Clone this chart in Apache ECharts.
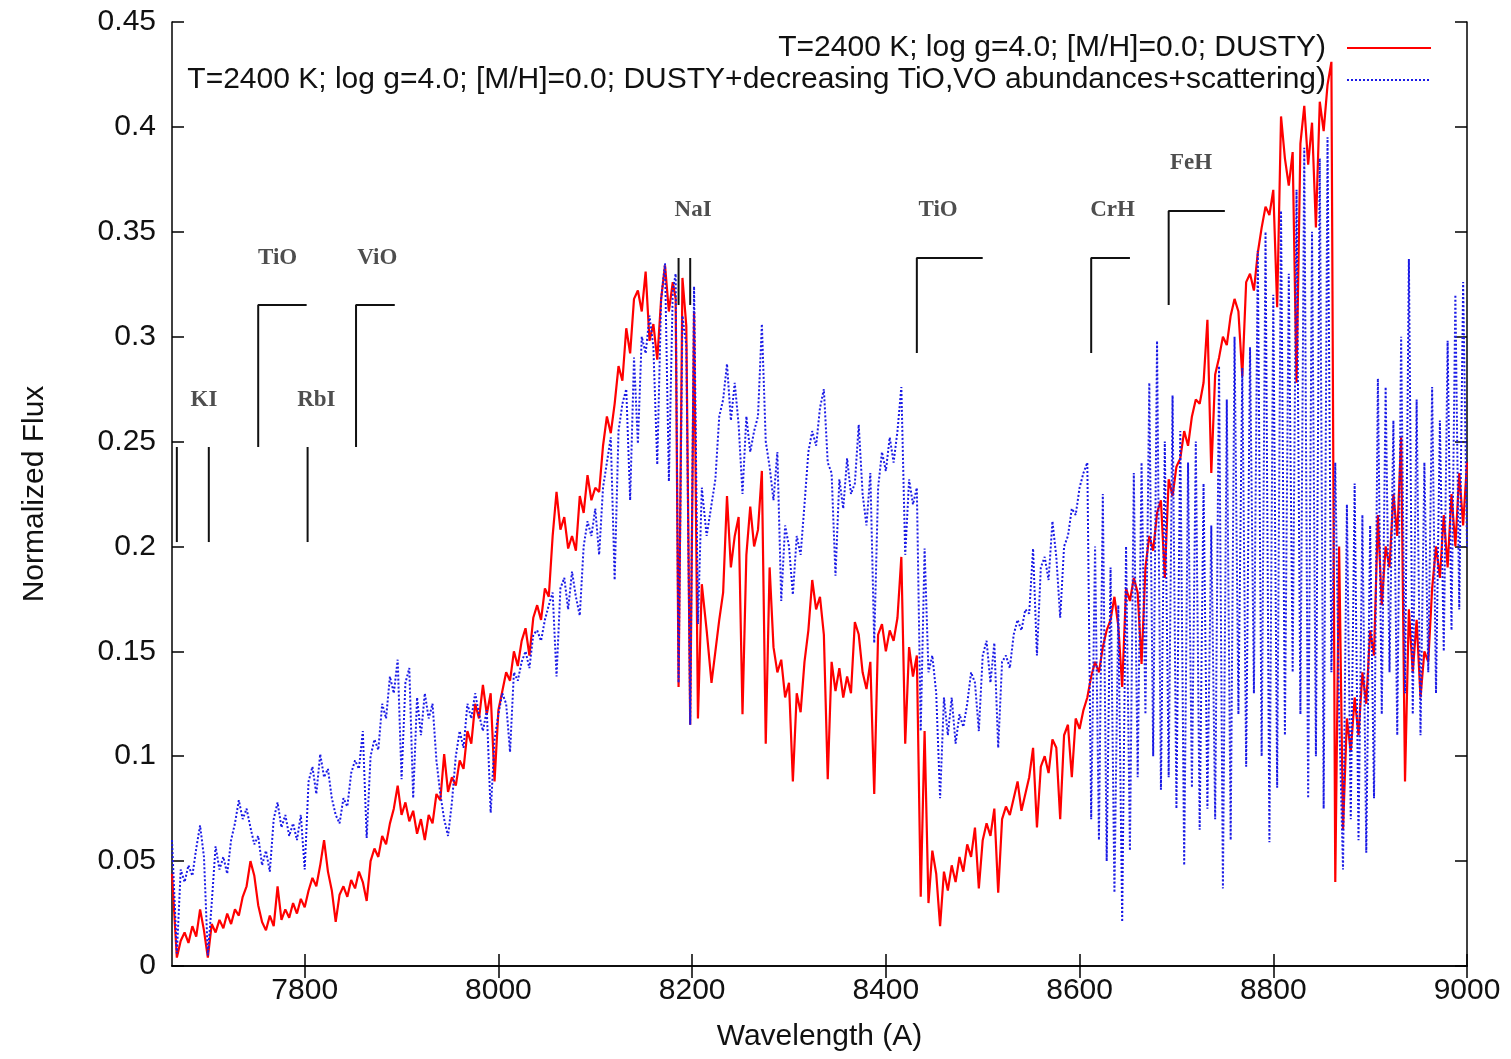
<!DOCTYPE html>
<html>
<head>
<meta charset="utf-8">
<script src="https://cdn.jsdelivr.net/npm/echarts@6.0.0/dist/echarts.min.js"></script>
<style>html,body{margin:0;padding:0;background:#fff}#chart{width:1511px;height:1059px}</style>
</head>
<body>
<div id="chart"></div>
<script>
// Wavelength grid (Angstrom)
const wavelength = [
7663,7668,7672,7676,7680,7684,7688,7692,7696,7700,
7704,7708,7712,7716,7720,7724,7728,7732,7736,7740,
7744,7748,7752,7756,7760,7764,7768,7772,7776,7780,
7784,7788,7792,7796,7800,7804,7808,7812,7816,7820,
7824,7828,7832,7836,7840,7844,7848,7852,7856,7860,
7864,7868,7872,7876,7880,7884,7888,7892,7896,7900,
7904,7908,7912,7916,7920,7924,7928,7932,7936,7940,
7944,7948,7952,7956,7960,7964,7968,7972,7976,7980,
7984,7988,7992,7996,8000,8004,8008,8012,8016,8020,
8024,8028,8032,8036,8040,8044,8048,8052,8056,8060,
8064,8068,8072,8076,8080,8084,8088,8092,8096,8100,
8104,8108,8112,8116,8120,8124,8128,8132,8136,8140,
8144,8148,8152,8156,8160,8164,8168,8172,8176,8180,
8183,8186,8190,8194,8198,8202,8206,8210,8215,8220,
8224,8228,8232,8236,8240,8244,8248,8252,8256,8260,
8264,8268,8272,8276,8280,8284,8288,8292,8296,8300,
8304,8308,8312,8316,8320,8324,8328,8332,8336,8340,
8344,8348,8352,8356,8360,8364,8368,8372,8376,8380,
8384,8388,8392,8396,8400,8404,8408,8412,8416,8420,
8424,8428,8432,8436,8440,8444,8448,8452,8456,8460,
8464,8468,8472,8476,8480,8484,8488,8492,8496,8500,
8504,8508,8512,8516,8520,8524,8528,8532,8536,8540,
8544,8548,8552,8556,8560,8564,8568,8572,8576,8580,
8584,8588,8592,8596,8600,8604,8608,8612,8616,8620,
8624,8628,8632,8636,8640,8644,8648,8652,8656,8660,
8664,8668,8672,8676,8680,8684,8688,8692,8696,8700,
8704,8708,8712,8716,8720,8724,8728,8732,8736,8740,
8744,8748,8752,8756,8760,8764,8768,8772,8776,8780,
8784,8788,8792,8796,8800,8804,8808,8812,8816,8820,
8824,8828,8832,8836,8840,8844,8848,8852,8856,8860,
8864,8868,8872,8876,8880,8884,8888,8892,8896,8900,
8904,8908,8912,8916,8920,8924,8928,8932,8936,8940,
8944,8948,8952,8956,8960,8964,8968,8972,8976,8980,
8984,8988,8992,8996,9000
];

// DUSTY model (red, solid)
const fluxDusty = [
0.044,0.004,0.012,0.016,0.011,0.019,0.014,0.027,0.017,0.004,
0.020,0.016,0.022,0.018,0.025,0.020,0.027,0.024,0.033,0.038,
0.050,0.043,0.029,0.021,0.017,0.024,0.019,0.038,0.022,0.027,
0.023,0.030,0.025,0.032,0.028,0.036,0.042,0.038,0.048,0.060,
0.045,0.036,0.021,0.034,0.038,0.033,0.041,0.037,0.045,0.040,
0.031,0.050,0.056,0.052,0.062,0.058,0.068,0.075,0.086,0.072,
0.078,0.069,0.074,0.063,0.070,0.060,0.072,0.068,0.082,0.079,
0.101,0.083,0.090,0.086,0.098,0.094,0.112,0.106,0.125,0.118,
0.134,0.120,0.130,0.088,0.122,0.131,0.140,0.136,0.150,0.143,
0.155,0.161,0.148,0.166,0.172,0.165,0.180,0.176,0.205,0.226,
0.208,0.214,0.199,0.205,0.198,0.224,0.216,0.234,0.222,0.228,
0.226,0.248,0.262,0.254,0.268,0.286,0.279,0.304,0.292,0.318,
0.322,0.312,0.331,0.298,0.306,0.289,0.318,0.334,0.312,0.326,
0.318,0.133,0.328,0.305,0.115,0.312,0.118,0.182,0.160,0.135,
0.150,0.165,0.178,0.224,0.190,0.205,0.214,0.120,0.196,0.219,
0.200,0.208,0.236,0.106,0.190,0.152,0.140,0.146,0.128,0.135,
0.088,0.130,0.121,0.145,0.160,0.184,0.170,0.176,0.158,0.089,
0.145,0.131,0.142,0.128,0.138,0.130,0.164,0.158,0.140,0.132,
0.145,0.082,0.158,0.163,0.150,0.160,0.155,0.166,0.195,0.106,
0.152,0.138,0.148,0.033,0.112,0.030,0.055,0.044,0.019,0.045,
0.036,0.048,0.040,0.052,0.045,0.058,0.052,0.066,0.037,0.060,
0.068,0.062,0.075,0.035,0.070,0.076,0.072,0.080,0.088,0.074,
0.082,0.090,0.104,0.066,0.095,0.100,0.092,0.108,0.104,0.070,
0.110,0.115,0.090,0.118,0.113,0.122,0.128,0.138,0.145,0.140,
0.152,0.160,0.165,0.176,0.162,0.133,0.180,0.174,0.185,0.178,
0.144,0.190,0.205,0.198,0.216,0.222,0.185,0.232,0.224,0.238,
0.242,0.255,0.248,0.262,0.270,0.268,0.278,0.308,0.235,0.282,
0.290,0.300,0.296,0.310,0.318,0.312,0.281,0.326,0.330,0.322,
0.340,0.352,0.362,0.358,0.370,0.314,0.405,0.385,0.372,0.388,
0.278,0.392,0.410,0.382,0.402,0.352,0.412,0.398,0.420,0.431,
0.040,0.200,0.065,0.118,0.102,0.128,0.110,0.140,0.125,0.160,
0.148,0.215,0.172,0.200,0.190,0.225,0.205,0.252,0.088,0.170,
0.140,0.165,0.128,0.150,0.145,0.180,0.200,0.185,0.215,0.190,
0.225,0.200,0.235,0.210,0.240
];

// DUSTY + decreasing TiO,VO abundances + scattering (blue, dotted)
const fluxScattering = [
0.060,0.006,0.046,0.040,0.048,0.043,0.056,0.067,0.052,0.005,
0.030,0.057,0.046,0.052,0.044,0.060,0.068,0.079,0.070,0.075,
0.066,0.058,0.062,0.048,0.055,0.045,0.070,0.078,0.066,0.072,
0.062,0.068,0.060,0.072,0.046,0.088,0.095,0.082,0.101,0.090,
0.094,0.080,0.072,0.068,0.080,0.076,0.092,0.098,0.094,0.112,
0.061,0.100,0.108,0.103,0.125,0.118,0.138,0.130,0.146,0.089,
0.135,0.142,0.080,0.128,0.110,0.130,0.118,0.125,0.098,0.082,
0.070,0.062,0.078,0.100,0.112,0.104,0.125,0.118,0.130,0.120,
0.112,0.122,0.073,0.108,0.120,0.130,0.125,0.102,0.140,0.136,
0.145,0.150,0.142,0.158,0.160,0.155,0.165,0.172,0.178,0.138,
0.180,0.185,0.170,0.188,0.176,0.167,0.200,0.212,0.205,0.218,
0.196,0.228,0.240,0.252,0.184,0.255,0.268,0.275,0.222,0.290,
0.249,0.300,0.292,0.310,0.295,0.239,0.318,0.335,0.231,0.322,
0.330,0.135,0.310,0.296,0.115,0.324,0.163,0.228,0.205,0.220,
0.232,0.262,0.270,0.287,0.260,0.278,0.258,0.225,0.262,0.245,
0.255,0.262,0.306,0.250,0.238,0.222,0.245,0.174,0.210,0.200,
0.177,0.205,0.196,0.220,0.245,0.255,0.248,0.266,0.275,0.240,
0.235,0.186,0.232,0.218,0.242,0.225,0.230,0.258,0.225,0.210,
0.235,0.154,0.228,0.245,0.236,0.252,0.240,0.255,0.276,0.196,
0.232,0.220,0.228,0.112,0.199,0.140,0.148,0.130,0.080,0.128,
0.110,0.128,0.106,0.120,0.114,0.125,0.140,0.135,0.112,0.148,
0.155,0.135,0.154,0.104,0.145,0.148,0.142,0.158,0.165,0.160,
0.170,0.168,0.199,0.148,0.190,0.195,0.184,0.212,0.195,0.166,
0.200,0.205,0.218,0.215,0.228,0.235,0.240,0.070,0.200,0.060,
0.225,0.050,0.190,0.035,0.172,0.021,0.200,0.055,0.235,0.090,
0.240,0.120,0.278,0.100,0.298,0.084,0.250,0.090,0.272,0.075,
0.255,0.048,0.240,0.085,0.250,0.065,0.230,0.075,0.210,0.070,
0.286,0.037,0.270,0.060,0.300,0.120,0.285,0.095,0.295,0.130,
0.341,0.100,0.350,0.059,0.320,0.085,0.360,0.110,0.330,0.140,
0.370,0.120,0.390,0.080,0.350,0.100,0.385,0.075,0.395,0.140,
0.240,0.120,0.046,0.220,0.070,0.230,0.060,0.215,0.054,0.210,
0.080,0.280,0.120,0.276,0.140,0.260,0.110,0.300,0.130,0.337,
0.120,0.270,0.110,0.240,0.140,0.276,0.130,0.260,0.150,0.298,
0.160,0.320,0.170,0.326,0.200
];

const seriesNames = [
  'T=2400 K; log g=4.0; [M/H]=0.0; DUSTY)',
  'T=2400 K; log g=4.0; [M/H]=0.0; DUSTY+decreasing TiO,VO abundances+scattering)'
];

const xTicks = [7800, 8000, 8200, 8400, 8600, 8800, 9000];

// Line identification markers (wavelength, flux)
const featureBrackets = [
  [[7668, 0.2021], [7668, 0.2474]],
  [[7701, 0.2021], [7701, 0.2474]],
  [[7752, 0.2474], [7752, 0.3151], [7802, 0.3151]],
  [[7803, 0.2021], [7803, 0.2474]],
  [[7853, 0.2474], [7853, 0.3151], [7893, 0.3151]],
  [[8186, 0.3151], [8186, 0.3375]],
  [[8198, 0.3151], [8198, 0.3375]],
  [[8432, 0.2922], [8432, 0.3375], [8500, 0.3375]],
  [[8612, 0.2922], [8612, 0.3375], [8652, 0.3375]],
  [[8692, 0.3151], [8692, 0.3599], [8750, 0.3599]]
];
const featureNames = ['KI', 'TiO', 'RbI', 'ViO', 'NaI', 'TiO', 'CrH', 'FeH'];
const featureLabelX = [7696, 7772, 7812, 7875, 8201, 8454, 8634, 8715];
const featureLabelY = [0.2698, 0.3375, 0.2698, 0.3375, 0.3603, 0.3603, 0.3603, 0.3827];

const SANS = 'Liberation Sans, Arial, Helvetica, sans-serif';
const SERIF = 'Liberation Serif, Times New Roman, serif';

const redData = wavelength.map((w, i) => [w, fluxDusty[i]]);
const blueData = wavelength.map((w, i) => [w, fluxScattering[i]]);

const axisLineStyle = { color: '#000', width: 1.5 };

const series = [
  {
    name: seriesNames[0], type: 'line', data: redData,
    symbol: 'none', showSymbol: false, z: 2,
    lineStyle: { color: '#ff0000', width: 2.2 }, itemStyle: { color: '#ff0000' }
  },
  {
    name: seriesNames[1], type: 'line', data: blueData,
    symbol: 'none', showSymbol: false, z: 3,
    lineStyle: { color: '#1a1ae6', width: 2, type: [2, 2] }, itemStyle: { color: '#1a1ae6' }
  }
];

featureBrackets.forEach((pts, i) => {
  series.push({
    name: 'mark' + i, type: 'line', data: pts, symbol: 'none', silent: true, z: 5,
    lineStyle: { color: '#111', width: 2 }
  });
});

series.push({
  name: 'labels', type: 'scatter', symbolSize: 0, silent: true, z: 6,
  data: featureNames.map((n, i) => ({ name: n, value: [featureLabelX[i], featureLabelY[i]] })),
  label: {
    show: true, position: 'inside', formatter: '{b}',
    fontFamily: SERIF, fontWeight: 'bold', fontSize: 23, color: '#222'
  }
});

const chart = echarts.init(document.getElementById('chart'), null, { renderer: 'canvas' });
chart.setOption({
  animation: false,
  backgroundColor: '#fff',
  grid: { left: 172, right: 44, top: 22, bottom: 93, containLabel: false },
  legend: {
    data: seriesNames,
    orient: 'vertical', align: 'right',
    right: 79, top: 33, padding: 0, itemGap: 2,
    itemWidth: 84, itemHeight: 14,
    selectedMode: false,
    itemStyle: { opacity: 0 },
    textStyle: { fontFamily: SANS, fontSize: 30, color: '#111', lineHeight: 30, padding: [0, 16, 0, 0] }
  },
  xAxis: [
    {
      type: 'value', min: 7663, max: 9000, position: 'bottom',
      name: 'Wavelength (A)', nameLocation: 'middle', nameGap: 56,
      nameTextStyle: { fontFamily: SANS, fontSize: 30, color: '#111' },
      axisLine: { show: true, lineStyle: axisLineStyle },
      axisTick: { show: true, inside: true, length: 12, customValues: xTicks, lineStyle: axisLineStyle },
      axisLabel: { customValues: xTicks, formatter: v => String(v), fontFamily: SANS, fontSize: 30, color: '#111', margin: 10 },
      splitLine: { show: false }
    },
    {
      type: 'value', min: 7663, max: 9000, position: 'top',
      axisLine: { show: true, lineStyle: axisLineStyle },
      axisTick: { show: true, inside: true, length: 12, customValues: xTicks, lineStyle: axisLineStyle },
      axisLabel: { show: false },
      splitLine: { show: false }
    }
  ],
  yAxis: [
    {
      type: 'value', min: 0, max: 0.45, interval: 0.05, position: 'left',
      name: 'Normalized Flux', nameLocation: 'middle', nameGap: 122,
      nameTextStyle: { fontFamily: SANS, fontSize: 30, color: '#111' },
      axisLine: { show: true, lineStyle: axisLineStyle },
      axisTick: { show: true, inside: true, length: 12, lineStyle: axisLineStyle },
      axisLabel: { fontFamily: SANS, fontSize: 30, color: '#111', margin: 16 },
      splitLine: { show: false }
    },
    {
      type: 'value', min: 0, max: 0.45, interval: 0.05, position: 'right',
      axisLine: { show: true, lineStyle: axisLineStyle },
      axisTick: { show: true, inside: true, length: 12, lineStyle: axisLineStyle },
      axisLabel: { show: false },
      splitLine: { show: false }
    }
  ],
  series: series
});
</script>
</body>
</html>
